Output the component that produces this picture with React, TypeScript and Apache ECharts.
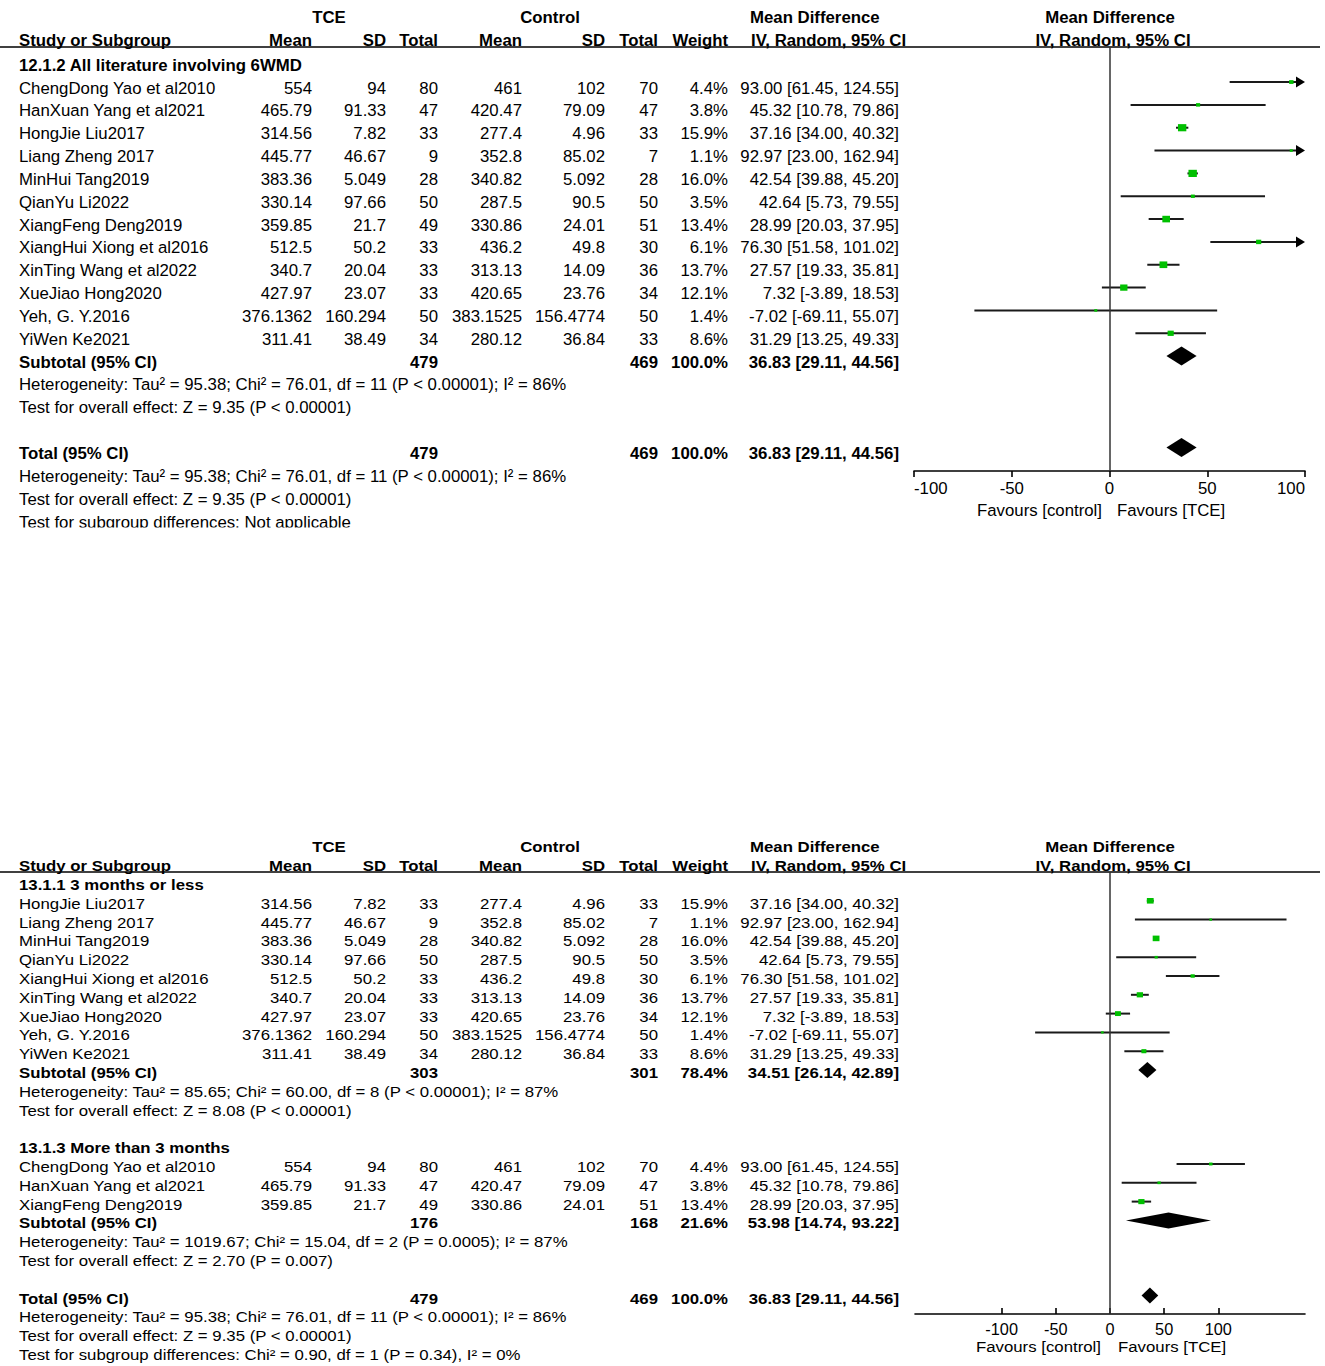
import React, { useEffect, useRef } from "react";
import * as echarts from "echarts";

// ---------------- data ----------------
const studyNames = [
  "ChengDong Yao et al2010",
  "HanXuan Yang et al2021",
  "HongJie Liu2017",
  "Liang Zheng 2017",
  "MinHui Tang2019",
  "QianYu Li2022",
  "XiangFeng Deng2019",
  "XiangHui Xiong et al2016",
  "XinTing Wang et al2022",
  "XueJiao Hong2020",
  "Yeh, G. Y.2016",
  "YiWen Ke2021",
];
const tceMean = [554, 465.79, 314.56, 445.77, 383.36, 330.14, 359.85, 512.5, 340.7, 427.97, 376.1362, 311.41];
const tceSD = [94, 91.33, 7.82, 46.67, 5.049, 97.66, 21.7, 50.2, 20.04, 23.07, 160.294, 38.49];
const tceTotal = [80, 47, 33, 9, 28, 50, 49, 33, 33, 33, 50, 34];
const ctlMean = [461, 420.47, 277.4, 352.8, 340.82, 287.5, 330.86, 436.2, 313.13, 420.65, 383.1525, 280.12];
const ctlSD = [102, 79.09, 4.96, 85.02, 5.092, 90.5, 24.01, 49.8, 14.09, 23.76, 156.4774, 36.84];
const ctlTotal = [70, 47, 33, 7, 28, 50, 51, 30, 36, 34, 50, 33];
const weights = [4.4, 3.8, 15.9, 1.1, 16.0, 3.5, 13.4, 6.1, 13.7, 12.1, 1.4, 8.6];
const mdValue = [93.0, 45.32, 37.16, 92.97, 42.54, 42.64, 28.99, 76.3, 27.57, 7.32, -7.02, 31.29];
const mdLow = [61.45, 10.78, 34.0, 23.0, 39.88, 5.73, 20.03, 51.58, 19.33, -3.89, -69.11, 13.25];
const mdHigh = [124.55, 79.86, 40.32, 162.94, 45.2, 79.55, 37.95, 101.02, 35.81, 18.53, 55.07, 49.33];

// subgroups for the second panel (indexes into the study arrays)
const groupShort = [2, 3, 4, 5, 7, 8, 9, 10, 11];
const groupLong = [0, 1, 6];
const subgroupTitles = ["13.1.1 3 months or less", "13.1.3 More than 3 months"];
const subTce = [303, 176];
const subCtl = [301, 168];
const subWeight = [78.4, 21.6];
const subMd = [34.51, 53.98];
const subLow = [26.14, 14.74];
const subHigh = [42.89, 93.22];
const subHet = [
  "Heterogeneity: Tau² = 85.65; Chi² = 60.00, df = 8 (P < 0.00001); I² = 87%",
  "Heterogeneity: Tau² = 1019.67; Chi² = 15.04, df = 2 (P = 0.0005); I² = 87%",
];
const subTest = ["Test for overall effect: Z = 8.08 (P < 0.00001)", "Test for overall effect: Z = 2.70 (P = 0.007)"];

const totalTce = 479;
const totalCtl = 469;
const totalWeight = 100.0;
const totalMd = 36.83;
const totalLow = 29.11;
const totalHigh = 44.56;
const totalHet = "Heterogeneity: Tau² = 95.38; Chi² = 76.01, df = 11 (P < 0.00001); I² = 86%";
const totalTest = "Test for overall effect: Z = 9.35 (P < 0.00001)";
const topGroupTitle = "12.1.2 All literature involving 6WMD";
const topSubgroupDiff = "Test for subgroup differences: Not applicable";
const bottomSubgroupDiff = "Test for subgroup differences: Chi² = 0.90, df = 1 (P = 0.34), I² = 0%";

const xTicks = [-100, -50, 0, 50, 100];

// ---------------- layout / style ----------------
const FONT = '"Liberation Sans", Arial, Helvetica, sans-serif';
const FS = 16.8;
const COL = { name: 19, tceMean: 312, tceSd: 386, tceTot: 438, ctlMean: 522, ctlSd: 605, ctlTot: 658, weight: 728, ci: 899 };
const TOP = { text0: 65.2, mark0: 59.2, step: 22.84, head1: 17, head2: 40, rule: 47, axis: 471 };
const BOT = { text0: 885, mark0: 882, step: 18.8, head1: 847, head2: 866, rule: 872, axis: 1314, scaleY: 0.86 };
const GREEN = "#00c000";
const LINE = "#1a1a1a";

const fmtCI = (m: number, l: number, h: number) => `${m.toFixed(2)} [${l.toFixed(2)}, ${h.toFixed(2)}]`;

function txt(text: string, x: number, y: number, align: string, bold: boolean, scaleY = 1) {
  return {
    type: "text",
    x,
    y,
    scaleY,
    silent: true,
    style: {
      text,
      font: `${bold ? "bold " : ""}${FS}px ${FONT}`,
      fill: "#000",
      textAlign: align,
      textVerticalAlign: "middle",
      align,
      verticalAlign: "middle",
    },
  };
}

function headerTexts(p: any, els: any[], sy: number) {
  els.push(txt("TCE", 329, p.head1, "center", true, sy));
  els.push(txt("Control", 550, p.head1, "center", true, sy));
  els.push(txt("Mean Difference", 750, p.head1, "left", true, sy));
  els.push(txt("Mean Difference", 1110, p.head1, "center", true, sy));
  els.push(txt("Study or Subgroup", COL.name, p.head2, "left", true, sy));
  els.push(txt("Mean", COL.tceMean, p.head2, "right", true, sy));
  els.push(txt("SD", COL.tceSd, p.head2, "right", true, sy));
  els.push(txt("Total", COL.tceTot, p.head2, "right", true, sy));
  els.push(txt("Mean", COL.ctlMean, p.head2, "right", true, sy));
  els.push(txt("SD", COL.ctlSd, p.head2, "right", true, sy));
  els.push(txt("Total", COL.ctlTot, p.head2, "right", true, sy));
  els.push(txt("Weight", COL.weight, p.head2, "right", true, sy));
  els.push(txt("IV, Random, 95% CI", 751, p.head2, "left", true, sy));
  els.push(txt("IV, Random, 95% CI", 1113, p.head2, "center", true, sy));
  els.push({
    type: "line",
    silent: true,
    shape: { x1: 0, y1: p.rule, x2: 1320, y2: p.rule },
    style: { stroke: "#000", lineWidth: 1.5 },
  });
}

function studyRow(i: number, y: number, els: any[], sy: number) {
  els.push(txt(studyNames[i], COL.name, y, "left", false, sy));
  els.push(txt(String(tceMean[i]), COL.tceMean, y, "right", false, sy));
  els.push(txt(String(tceSD[i]), COL.tceSd, y, "right", false, sy));
  els.push(txt(String(tceTotal[i]), COL.tceTot, y, "right", false, sy));
  els.push(txt(String(ctlMean[i]), COL.ctlMean, y, "right", false, sy));
  els.push(txt(String(ctlSD[i]), COL.ctlSd, y, "right", false, sy));
  els.push(txt(String(ctlTotal[i]), COL.ctlTot, y, "right", false, sy));
  els.push(txt(weights[i].toFixed(1) + "%", COL.weight, y, "right", false, sy));
  els.push(txt(fmtCI(mdValue[i], mdLow[i], mdHigh[i]), COL.ci, y, "right", false, sy));
}

function pooledRow(label: string, t: number, c: number, w: number, m: number, l: number, h: number, y: number, els: any[], sy: number) {
  els.push(txt(label, COL.name, y, "left", true, sy));
  els.push(txt(String(t), COL.tceTot, y, "right", true, sy));
  els.push(txt(String(c), COL.ctlTot, y, "right", true, sy));
  els.push(txt(w.toFixed(1) + "%", COL.weight, y, "right", true, sy));
  els.push(txt(fmtCI(m, l, h), COL.ci, y, "right", true, sy));
}

function makeStudyRender(xmin: number, xmax: number, wk: number, hk: number, minS: number) {
  return (params: any, api: any) => {
    const m = api.value(0);
    const lo = api.value(1);
    const hi = api.value(2);
    const row = api.value(3);
    const w = api.value(4);
    const pL = api.coord([Math.max(lo, xmin), row]);
    const pH = api.coord([Math.min(hi, xmax), row]);
    const pM = api.coord([m, row]);
    const y = pM[1];
    const children: any[] = [];
    const arrow = hi > xmax;
    const lineEnd = arrow ? pH[0] - 7 : pH[0];
    children.push({
      type: "line",
      shape: { x1: pL[0], y1: y, x2: lineEnd, y2: y },
      style: { stroke: LINE, lineWidth: 2 },
    });
    if (arrow) {
      children.push({
        type: "polygon",
        shape: { points: [[pH[0] - 9, y - 5.5], [pH[0], y], [pH[0] - 9, y + 5.5]] },
        style: { fill: "#000" },
      });
    }
    const sw = Math.max(minS, wk * Math.sqrt(w));
    const sh = Math.max(minS * 0.85, hk * Math.sqrt(w));
    children.push({
      type: "rect",
      shape: { x: pM[0] - sw / 2, y: y - sh / 2, width: sw, height: sh },
      style: { fill: GREEN },
    });
    return { type: "group", children };
  };
}

function makeDiamondRender(half: number) {
  return (params: any, api: any) => {
    const m = api.value(0);
    const lo = api.value(1);
    const hi = api.value(2);
    const row = api.value(3);
    const pL = api.coord([lo, row]);
    const pH = api.coord([hi, row]);
    const pM = api.coord([m, row]);
    const y = pM[1];
    return {
      type: "polygon",
      shape: { points: [[pL[0], y], [pM[0], y - half], [pH[0], y], [pM[0], y + half]] },
      style: { fill: "#000" },
    };
  };
}

export default function App() {
  const ref = useRef<HTMLDivElement>(null);
  useEffect(() => {
    document.body.style.margin = "0";
    if (!ref.current) return;
    const chart = echarts.init(ref.current, undefined, { renderer: "svg" });

    const els: any[] = [];
    // ---------- top panel table ----------
    headerTexts(TOP, els, 1);
    const ty = (r: number) => TOP.text0 + TOP.step * r;
    els.push(txt(topGroupTitle, COL.name, ty(0), "left", true));
    studyNames.forEach((_, i) => studyRow(i, ty(i + 1), els, 1));
    pooledRow("Subtotal (95% CI)", totalTce, totalCtl, totalWeight, totalMd, totalLow, totalHigh, ty(13), els, 1);
    els.push(txt(totalHet, COL.name, ty(14), "left", false));
    els.push(txt(totalTest, COL.name, ty(15), "left", false));
    pooledRow("Total (95% CI)", totalTce, totalCtl, totalWeight, totalMd, totalLow, totalHigh, ty(17), els, 1);
    els.push(txt(totalHet, COL.name, ty(18), "left", false));
    els.push(txt(totalTest, COL.name, ty(19), "left", false));
    els.push(txt(topSubgroupDiff, COL.name, ty(20), "left", false));
    els.push({ type: "rect", silent: true, shape: { x: 0, y: 527.5, width: 430, height: 14 }, style: { fill: "#fff" } });
    els.push(txt("Favours [control]", 1102, 510, "right", false));
    els.push(txt("Favours [TCE]", 1117, 510, "left", false));

    // ---------- bottom panel table ----------
    const sy = BOT.scaleY;
    headerTexts(BOT, els, sy);
    const by = (r: number) => BOT.text0 + BOT.step * r;
    const groups = [groupShort, groupLong];
    const groupStart = [0, 14];
    groups.forEach((g, gi) => {
      const r0 = groupStart[gi];
      els.push(txt(subgroupTitles[gi], COL.name, by(r0), "left", true, sy));
      g.forEach((si, k) => studyRow(si, by(r0 + 1 + k), els, sy));
      const rs = r0 + 1 + g.length;
      pooledRow("Subtotal (95% CI)", subTce[gi], subCtl[gi], subWeight[gi], subMd[gi], subLow[gi], subHigh[gi], by(rs), els, sy);
      els.push(txt(subHet[gi], COL.name, by(rs + 1), "left", false, sy));
      els.push(txt(subTest[gi], COL.name, by(rs + 2), "left", false, sy));
    });
    pooledRow("Total (95% CI)", totalTce, totalCtl, totalWeight, totalMd, totalLow, totalHigh, by(22), els, sy);
    els.push(txt(totalHet, COL.name, by(23), "left", false, sy));
    els.push(txt(totalTest, COL.name, by(24), "left", false, sy));
    els.push(txt(bottomSubgroupDiff, COL.name, by(25), "left", false, sy));
    els.push(txt("Favours [control]", 1101, 1347, "right", false, sy));
    els.push(txt("Favours [TCE]", 1118, 1347, "left", false, sy));

    // ---------- plot data ----------
    const topStudyData = studyNames.map((_, i) => [mdValue[i], mdLow[i], mdHigh[i], i + 1, weights[i]]);
    const topDiamonds = [
      [totalMd, totalLow, totalHigh, 13],
      [totalMd, totalLow, totalHigh, 17],
    ];
    const botStudyData: number[][] = [];
    groups.forEach((g, gi) => {
      g.forEach((si, k) => botStudyData.push([mdValue[si], mdLow[si], mdHigh[si], groupStart[gi] + 1 + k, weights[si]]));
    });
    const botDiamonds = [
      [subMd[0], subLow[0], subHigh[0], groupStart[0] + 1 + groupShort.length],
      [subMd[1], subLow[1], subHigh[1], groupStart[1] + 1 + groupLong.length],
      [totalMd, totalLow, totalHigh, 22],
    ];

    const topMin = -(TOP.mark0 - TOP.rule) / TOP.step;
    const topMax = topMin + (TOP.axis - TOP.rule) / TOP.step;
    const botMin = -(BOT.mark0 - BOT.rule) / BOT.step;
    const botMax = botMin + (BOT.axis - BOT.rule) / BOT.step;

    const zeroLine = {
      silent: true,
      symbol: ["none", "none"],
      label: { show: false },
      lineStyle: { color: "#333", width: 1.5, type: "solid" },
      data: [{ xAxis: 0 }],
    };

    const axisCommon = {
      type: "value",
      splitLine: { show: false },
      axisLine: { show: true, onZero: false, lineStyle: { color: "#000", width: 1.6 } },
    };

    const option: any = {
      animation: false,
      backgroundColor: "#ffffff",
      grid: [
        { left: 914, top: TOP.rule, width: 391, height: TOP.axis - TOP.rule },
        { left: 915, top: BOT.rule, width: 390, height: BOT.axis - BOT.rule },
      ],
      xAxis: [
        {
          ...axisCommon,
          gridIndex: 0,
          min: -100,
          max: 100,
          interval: 50,
          axisTick: { show: true, length: 6, lineStyle: { color: "#000", width: 1.6 } },
          axisLabel: {
            color: "#000",
            fontSize: FS,
            fontFamily: FONT,
            margin: 9,
            alignMinLabel: "left",
            alignMaxLabel: "right",
          },
        },
        {
          ...axisCommon,
          gridIndex: 1,
          min: -180,
          max: 180,
          axisTick: { show: true, inside: true, length: 6, customValues: xTicks, lineStyle: { color: "#000", width: 1.6 } },
          axisLabel: { color: "#000", fontSize: FS - 0.5, fontFamily: FONT, margin: 7, customValues: xTicks },
        },
      ],
      yAxis: [
        { type: "value", gridIndex: 0, inverse: true, min: topMin, max: topMax, show: false },
        { type: "value", gridIndex: 1, inverse: true, min: botMin, max: botMax, show: false },
      ],
      series: [
        {
          type: "custom",
          xAxisIndex: 0,
          yAxisIndex: 0,
          data: topStudyData,
          encode: { x: 0, y: 3 },
          renderItem: makeStudyRender(-100, 100, 2.1, 1.8, 3),
          markLine: zeroLine,
          z: 3,
        },
        {
          type: "custom",
          xAxisIndex: 0,
          yAxisIndex: 0,
          data: topDiamonds,
          encode: { x: 0, y: 3 },
          renderItem: makeDiamondRender(9.5),
          z: 3,
        },
        {
          type: "custom",
          xAxisIndex: 1,
          yAxisIndex: 1,
          data: botStudyData,
          encode: { x: 0, y: 3 },
          renderItem: makeStudyRender(-180, 180, 1.7, 1.4, 2.6),
          markLine: zeroLine,
          z: 3,
        },
        {
          type: "custom",
          xAxisIndex: 1,
          yAxisIndex: 1,
          data: botDiamonds,
          encode: { x: 0, y: 3 },
          renderItem: makeDiamondRender(8),
          z: 3,
        },
      ],
      graphic: { elements: els },
    };
    chart.setOption(option);
    return () => chart.dispose();
  }, []);
  return <div ref={ref} style={{ width: 1325, height: 1366, background: "#fff" }} />;
}
